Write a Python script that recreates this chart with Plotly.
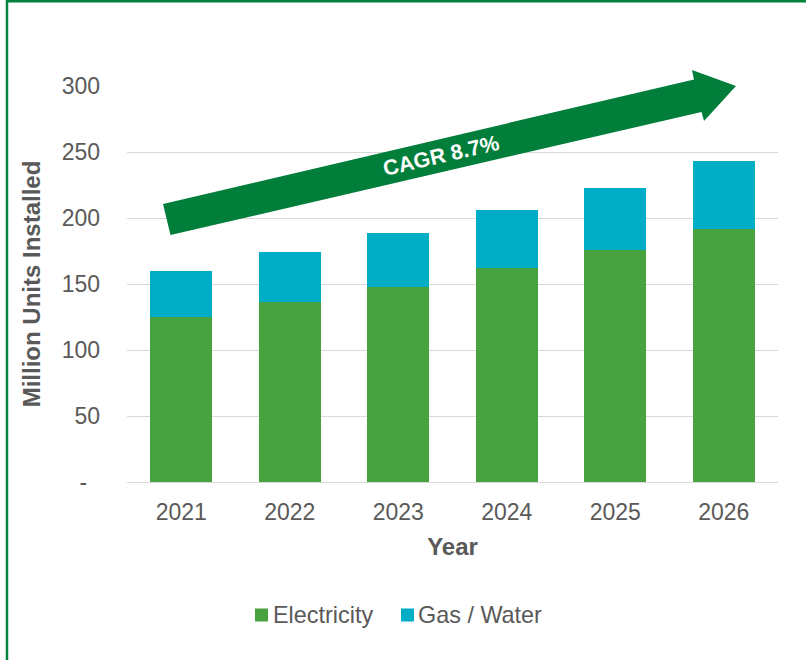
import plotly.graph_objects as go

# ---- data ----
years = ["2021", "2022", "2023", "2024", "2025", "2026"]
electricity = [125, 136, 148, 162, 176, 192]
gas_water = [35, 38, 41, 44, 47, 51]
series_names = ["Electricity", "Gas / Water"]
y_tickvals = [0, 50, 100, 150, 200, 250, 300]
y_ticktext = ["-\u00a0\u00a0", "50", "100", "150", "200", "250", "300"]
cagr_label = "CAGR 8.7%"

# ---- layout geometry ----
W, H = 806, 660
L, R, T, B = 127, 28, 86, 178
PW, PH = W - L - R, H - T - B

def px(x):
    return (x - L) / PW

def py(y):
    return (H - B - y) / PH

GREEN_E = "#48A23F"
BLUE_G = "#00ADC6"
ARROW = "#007E3A"
BORDER = "#00843D"
TXT = "#595959"
FONT = "Liberation Sans, Arial, sans-serif"

fig = go.Figure()
fig.add_bar(x=years, y=electricity, name=series_names[0], marker_color=GREEN_E,
            marker_line_width=0)
fig.add_bar(x=years, y=gas_water, name=series_names[1], marker_color=BLUE_G,
            marker_line_width=0)

# arrow polygon (decoration)
pts = [(163, 204), (694, 79.5), (692, 70), (736, 86), (704, 121), (701.5, 112), (170.5, 235)]
path = "M " + " L ".join(f"{px(x):.5f},{py(y):.5f}" for x, y in pts) + " Z"

shapes = [
    dict(type="path", path=path, xref="paper", yref="paper", fillcolor=ARROW,
         line=dict(width=0), layer="above"),
    # border lines
    dict(type="line", xref="paper", yref="paper", x0=px(7), x1=px(810), y0=py(1.2), y1=py(1.2),
         line=dict(color=BORDER, width=2.5)),
    dict(type="line", xref="paper", yref="paper", x0=px(7), x1=px(7), y0=py(0), y1=py(662),
         line=dict(color=BORDER, width=2.5)),
    # legend squares
    dict(type="rect", xref="paper", yref="paper", x0=px(255), x1=px(268), y0=py(621.5), y1=py(608.5),
         fillcolor=GREEN_E, line=dict(width=0)),
    dict(type="rect", xref="paper", yref="paper", x0=px(401), x1=px(414), y0=py(621.5), y1=py(608.5),
         fillcolor=BLUE_G, line=dict(width=0)),
]

annotations = [
    dict(text=f"<b>{cagr_label}</b>", xref="paper", yref="paper", x=px(441), y=py(156),
         showarrow=False, textangle=-13, font=dict(family=FONT, size=21.5, color="white"),
         xanchor="center", yanchor="middle"),
    dict(text=series_names[0], xref="paper", yref="paper", x=px(271), y=py(615),
         showarrow=False, xanchor="left", yanchor="middle",
         font=dict(family=FONT, size=23.4, color=TXT)),
    dict(text=series_names[1], xref="paper", yref="paper", x=px(416), y=py(615),
         showarrow=False, xanchor="left", yanchor="middle",
         font=dict(family=FONT, size=23.4, color=TXT)),
]

fig.update_layout(
    width=W, height=H,
    margin=dict(l=L, r=R, t=T, b=B),
    barmode="stack",
    bargap=0.43,
    plot_bgcolor="white",
    paper_bgcolor="white",
    showlegend=False,
    font=dict(family=FONT, color=TXT, size=23),
    shapes=shapes,
    annotations=annotations,
    xaxis=dict(
        type="category",
        showgrid=False,
        showline=False,
        zeroline=False,
        ticks="",
        tickfont=dict(size=23, color=TXT),
        ticklabelstandoff=14,
        title=dict(text="<b>Year</b>", font=dict(size=24, color=TXT), standoff=14),
    ),
    yaxis=dict(
        range=[0, 300],
        tickvals=y_tickvals,
        ticktext=y_ticktext,
        showgrid=True,
        gridcolor="#D9D9D9",
        gridwidth=1.3,
        zeroline=True,
        zerolinecolor="#D9D9D9",
        zerolinewidth=1.3,
        showline=False,
        ticks="",
        tickfont=dict(size=23, color=TXT),
        ticklabelstandoff=26,
        title=dict(text="<b>Million Units Installed</b>", font=dict(size=24, color=TXT), standoff=14),
    ),
)

fig.write_html(
    "out.html",
    config={"displayModeBar": False},
    post_script="document.body.style.margin='0';document.body.style.overflow='hidden';",
)
